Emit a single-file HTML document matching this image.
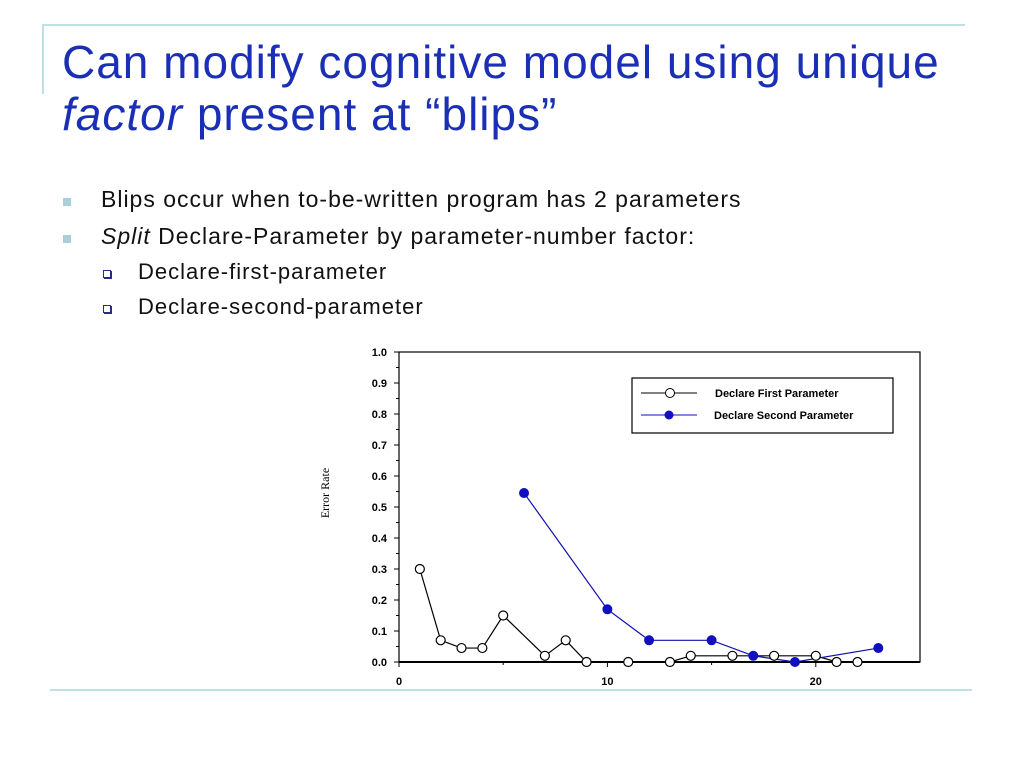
<!DOCTYPE html>
<html><head><meta charset="utf-8"><style>
body{margin:0;width:1024px;height:768px;background:#fff;position:relative;overflow:hidden;font-family:"Liberation Sans",sans-serif}
.t{position:absolute;left:62px;top:36px;font-size:46px;letter-spacing:1px;line-height:52px;color:#1a2fb5;white-space:nowrap}
.b{position:absolute;font-size:23px;letter-spacing:1px;color:#111;white-space:nowrap}
.sq{position:absolute;width:8px;height:8px;background:#a9d0d8}
.sq2{position:absolute;width:6px;height:6px;border:1px solid #2a2a8a;box-shadow:1px 1px 0 #2a2a8a}
</style></head><body>
<div style="position:absolute;left:42px;top:24px;width:923px;height:2px;background:#bfe0e6"></div>
<div style="position:absolute;left:42px;top:24px;width:2px;height:70px;background:#bfe0e6"></div>
<div style="position:absolute;left:50px;top:689px;width:922px;height:2px;background:#bfe0e6"></div>
<div class="t">Can modify cognitive model using unique<br><i>factor</i> present at “blips”</div>
<div class="sq" style="left:63px;top:198px"></div>
<div class="b" style="left:101px;top:186px">Blips occur when to-be-written program has 2 parameters</div>
<div class="sq" style="left:63px;top:235px"></div>
<div class="b" style="left:101px;top:223px"><i>Split</i> Declare-Parameter by parameter-number factor:</div>
<div class="sq2" style="left:103px;top:270px"></div>
<div class="b" style="left:138px;top:259px;font-size:22px">Declare-first-parameter</div>
<div class="sq2" style="left:103px;top:305px"></div>
<div class="b" style="left:138px;top:294px;font-size:22px">Declare-second-parameter</div>
<svg id="c" width="1024" height="768" style="position:absolute;left:0;top:0"></svg>
<script>
const yTicks=[0,0.1,0.2,0.3,0.4,0.5,0.6,0.7,0.8,0.9,1.0];
const xTicks=[0,10,20];
const firstX=[1,2,3,4,5,7,8,9,11,13,14,16,18,20,21,22];
const firstY=[0.30,0.07,0.045,0.045,0.15,0.02,0.07,0,0,0,0.02,0.02,0.02,0.02,0,0];
const secondX=[6,10,12,15,17,19,23];
const secondY=[0.545,0.17,0.07,0.07,0.02,0,0.045];
const X0=399,X1=920,Y0=662,Y1=352;
const xs=v=>X0+(v/25)*(X1-X0);
const ys=v=>Y0-v*(Y0-Y1);
const svg=document.getElementById('c');
const NS='http://www.w3.org/2000/svg';
function mk(tag,attrs,parent){const e=document.createElementNS(NS,tag);for(const k in attrs)e.setAttribute(k,attrs[k]);(parent||svg).appendChild(e);return e;}
let e;
e=mk('rect',{x:X0,y:Y1,width:X1-X0,height:Y0-Y1,fill:'none',stroke:'#000','stroke-width':1.2});


e=mk('line',{x1:X0,y1:Y0,x2:X1,y2:Y0,stroke:'#000','stroke-width':2});


for(let i=0;i<yTicks.length;i++){const v=yTicks[i];
 mk('line',{x1:X0-5,y1:ys(v),x2:X0,y2:ys(v),stroke:'#000'});
 if(i<yTicks.length-1)mk('line',{x1:X0-3,y1:ys(v+0.05),x2:X0,y2:ys(v+0.05),stroke:'#000'});
 e=mk('text',{x:X0-12,y:ys(v)+4,'text-anchor':'end','font-size':11,'font-weight':'bold','font-family':'Liberation Sans'});
 e.textContent=v.toFixed(1);
 
 }
for(const v of xTicks){mk('line',{x1:xs(v),y1:Y0,x2:xs(v),y2:Y0+5,stroke:'#000'});
 e=mk('text',{x:xs(v),y:Y0+23,'text-anchor':'middle','font-size':11,'font-weight':'bold','font-family':'Liberation Sans'});
 e.textContent=v;
 
 }
for(let v=5;v<25;v+=10)mk('line',{x1:xs(v),y1:Y0,x2:xs(v),y2:Y0+3,stroke:'#000'});
e=mk('text',{x:0,y:0,transform:'translate(329,493) rotate(-90)','text-anchor':'middle','font-size':12,'font-family':'Liberation Serif'});
e.textContent='Error Rate';


e=mk('polyline',{points:firstX.map((x,i)=>xs(x)+','+ys(firstY[i])).join(' '),fill:'none',stroke:'#000','stroke-width':1.2});


e=mk('polyline',{points:secondX.map((x,i)=>xs(x)+','+ys(secondY[i])).join(' '),fill:'none',stroke:'#1010b0','stroke-width':1.2});


for(let i=0;i<firstX.length;i++){e=mk('circle',{cx:xs(firstX[i]),cy:ys(firstY[i]),r:4.5,fill:'#fff',stroke:'#000','stroke-width':1.2});
 
 }
for(let i=0;i<secondX.length;i++){e=mk('circle',{cx:xs(secondX[i]),cy:ys(secondY[i]),r:4.5,fill:'#1010c0',stroke:'#1010c0'});
 
 }
e=mk('rect',{x:632,y:378,width:261,height:55,fill:'#fff',stroke:'#000','stroke-width':1.2});


mk('line',{x1:641,y1:393,x2:697,y2:393,stroke:'#000'});
mk('circle',{cx:670,cy:393,r:4.5,fill:'#fff',stroke:'#000'});
e=mk('text',{x:715,y:397,'font-size':11,'font-weight':'bold','font-family':'Liberation Sans'});e.textContent='Declare First Parameter';


mk('line',{x1:641,y1:415,x2:697,y2:415,stroke:'#1010b0'});
mk('circle',{cx:669,cy:415,r:4.5,fill:'#1010c0'});
e=mk('text',{x:714,y:419,'font-size':11,'font-weight':'bold','font-family':'Liberation Sans'});e.textContent='Declare Second Parameter';


</script>
</body></html>
